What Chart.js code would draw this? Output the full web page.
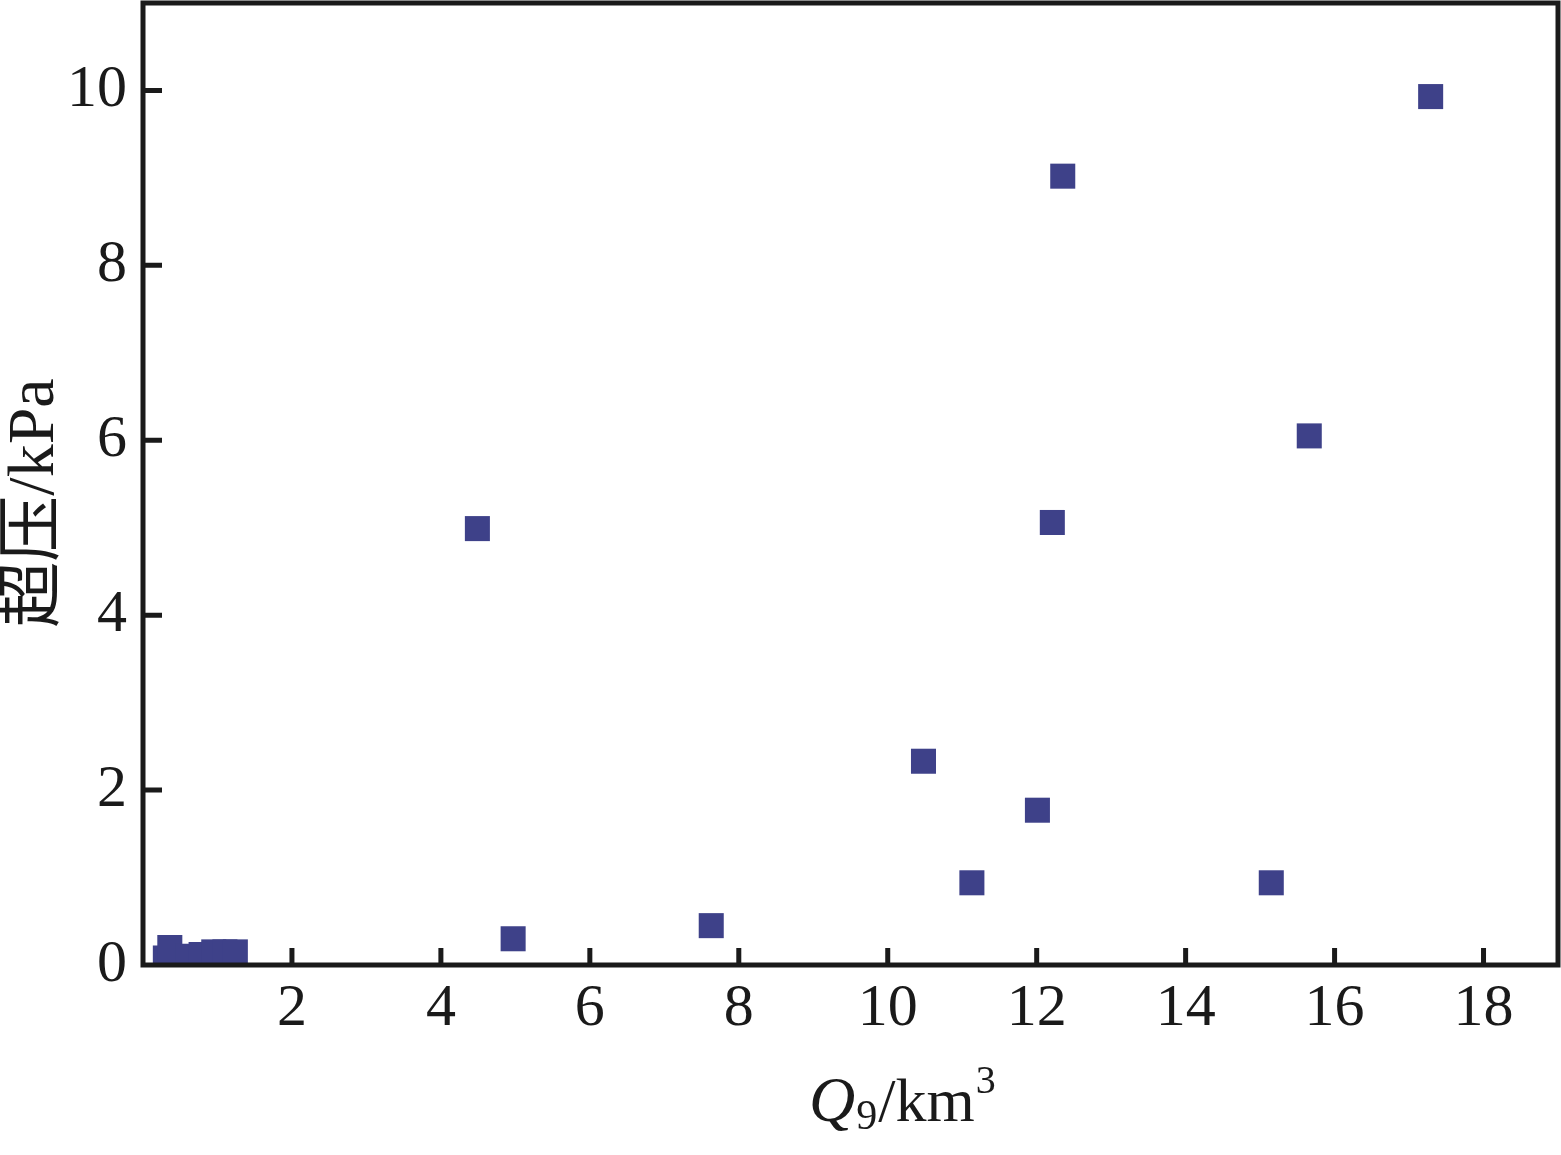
<!DOCTYPE html>
<html>
<head>
<meta charset="utf-8">
<script src="https://cdn.jsdelivr.net/npm/chart.js@4/dist/chart.umd.min.js"></script>
<style>
html,body{margin:0;padding:0;background:#fff;}
#wrap{width:1561px;height:1155px;position:relative;}
</style>
</head>
<body>
<div id="wrap"><canvas id="c" width="1561" height="1155"></canvas></div>
<script>
// Data
const qValues = [0.30, 0.36, 0.60, 0.78, 0.95, 1.10, 1.24, 4.49, 4.97, 7.63, 10.48, 11.13, 12.01, 12.21, 12.35, 15.15, 15.66, 17.29];
const overpressure = [0.08, 0.20, 0.10, 0.12, 0.15, 0.15, 0.15, 4.99, 0.30, 0.45, 2.33, 0.94, 1.77, 5.06, 9.02, 0.94, 6.05, 9.93];
const xTickValues = [2, 4, 6, 8, 10, 12, 14, 16, 18];
const yTickValues = [0, 2, 4, 6, 8, 10];
const yTitle = '超压/kPa';

const INK = '#1a1a1a';
const MARK = '#3e4189';
const FONT = "'Liberation Serif', 'Times New Roman', 'Noto Sans CJK SC', serif";

const points = qValues.map((q, i) => ({x: q, y: overpressure[i]}));

const framePlugin = {
  id: 'frameTicks',
  afterDatasetsDraw(chart) {
    const ctx = chart.ctx;
    const a = chart.chartArea;
    const xs = chart.scales.x, ys = chart.scales.y;
    ctx.save();
    ctx.strokeStyle = INK;
    ctx.lineWidth = 5;
    ctx.lineCap = 'butt';
    // inward tick marks
    ctx.beginPath();
    xs.ticks.forEach((t, i) => {
      const px = xs.getPixelForTick(i);
      ctx.moveTo(px, a.bottom);
      ctx.lineTo(px, a.bottom - 17);
    });
    ys.ticks.forEach((t, i) => {
      if (t.value === 0) return;
      const py = ys.getPixelForTick(i);
      ctx.moveTo(a.left, py);
      ctx.lineTo(a.left + 19, py);
    });
    ctx.stroke();
    // frame
    ctx.strokeRect(a.left, a.top, a.right - a.left, a.bottom - a.top);
    ctx.fillStyle = INK;
    // y-axis title (rotated)
    ctx.save();
    ctx.translate(36, a.top + 500);
    ctx.rotate(-Math.PI / 2);
    ctx.textAlign = 'center';
    ctx.textBaseline = 'middle';
    ctx.font = "66px " + FONT;
    ctx.fillText(yTitle, 0, 0);
    ctx.restore();
    // x-axis title: Q9/km3 (italic Q, subscript 9, superscript 3)
    const base = 1121;
    let x = a.left + 666;
    ctx.textBaseline = 'alphabetic';
    ctx.textAlign = 'left';
    ctx.font = "italic 64px " + FONT;
    ctx.fillText('Q', x, base);
    x += ctx.measureText('Q').width + 1;
    ctx.font = "42px " + FONT;
    ctx.fillText('9', x, base + 8);
    x += ctx.measureText('9').width + 1;
    ctx.font = "62px " + FONT;
    ctx.fillText('/km', x, base);
    x += ctx.measureText('/km').width + 1;
    ctx.font = "40px " + FONT;
    ctx.fillText('3', x, base - 28);
    ctx.restore();
  }
};

new Chart(document.getElementById('c'), {
  type: 'scatter',
  data: {
    datasets: [{
      data: points,
      pointStyle: 'rect',
      pointRadius: 17.7,
      pointHoverRadius: 17.7,
      pointBorderWidth: 0,
      backgroundColor: MARK,
      borderColor: MARK
    }]
  },
  options: {
    responsive: false,
    animation: false,
    devicePixelRatio: 1,
    layout: {autoPadding: false, padding: {top: 3, right: 3, left: 0, bottom: 0}},
    plugins: {legend: {display: false}, tooltip: {enabled: false}},
    scales: {
      x: {
        type: 'linear',
        min: 0, max: 19,
        grid: {display: false},
        border: {display: false},
        afterBuildTicks(scale) { scale.ticks = xTickValues.map(v => ({value: v})); },
        afterFit(scale) { scale.height = 190; scale.paddingLeft = 0; scale.paddingRight = 0; },
        ticks: {
          color: INK,
          padding: 0,
          maxRotation: 0,
          font: {family: FONT, size: 60}
        }
      },
      y: {
        type: 'linear',
        min: 0, max: 11,
        grid: {display: false},
        border: {display: false},
        afterBuildTicks(scale) { scale.ticks = yTickValues.map(v => ({value: v})); },
        afterFit(scale) { scale.width = 143; scale.paddingTop = 0; scale.paddingBottom = 0; },
        ticks: {
          color: INK,
          padding: 8,
          font: {family: FONT, size: 60}
        },
        title: {display: false}
      }
    }
  },
  plugins: [framePlugin]
});
</script>
</body>
</html>
